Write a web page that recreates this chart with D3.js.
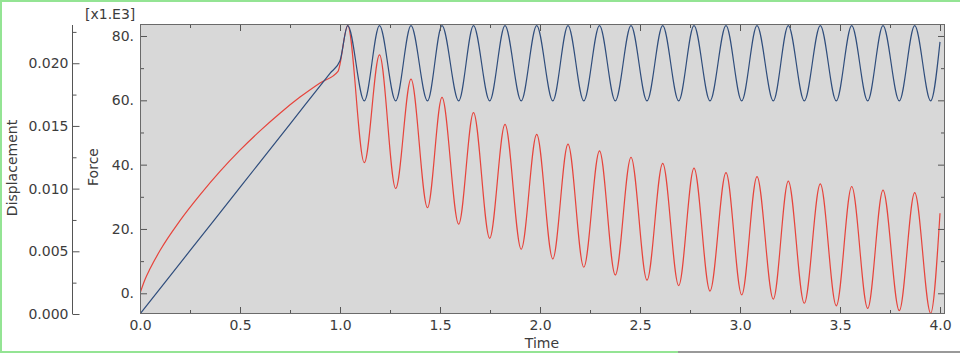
<!DOCTYPE html>
<html>
<head>
<meta charset="utf-8">
<script src="https://cdn.jsdelivr.net/npm/d3@7"></script>
<style>
  body { margin: 0; background: #fff; }
  text { font-family: "DejaVu Sans", Verdana, sans-serif; fill: #3c3c3c; }
  .axis path, .axis line { stroke: #555; }
</style>
</head>
<body>
<svg id="chart" width="960" height="354"></svg>
<script>
// ramp part (t <= 1.0)
const forceRampTime = [0, 0.025, 0.05, 0.1, 0.2, 0.3, 0.4, 0.5, 0.6, 0.7, 0.8, 0.9, 0.99];
const forceRamp = [0, 4.3, 7.6, 13.3, 22.6, 30.6, 37.9, 44.5, 50.5, 56.0, 61.0, 65.4, 69.0];
const dispRampTime = [0, 0.25, 0.5, 0.75, 0.95, 1.0];
const dispRamp = [0, 0.00505, 0.0101, 0.01515, 0.0192, 0.0202];

// oscillation: alternating peak / trough times (shared by both curves)
const extremaTime = [
  1.0385, 1.1215, 1.1975, 1.2785, 1.355, 1.4375, 1.51, 1.5935, 1.6675, 1.7485,
  1.825, 1.906, 1.9835, 2.064, 2.14, 2.219, 2.2975, 2.3765, 2.455, 2.535,
  2.6135, 2.6935, 2.77, 2.85, 2.93, 3.0085, 3.085, 3.1665, 3.2415, 3.3215,
  3.4015, 3.4815, 3.5585, 3.6385, 3.715, 3.7965, 3.8735, 3.9535, 4.0
];
// force in [x1.E3]
const forceExtrema = [
  83.2, 40.6, 74.1, 32.6, 66.6, 26.6, 60.9, 21.5, 56.2, 17.1,
  52.5, 13.7, 49.4, 10.7, 46.4, 8.1, 44.3, 5.7, 42.3, 4.1,
  40.4, 2.4, 38.9, 0.7, 37.5, -0.5, 36.3, -1.8, 34.9, -3.1,
  34.0, -3.9, 33.2, -4.7, 32.1, -5.4, 31.3, -6.2, 24.9
];
const dispExtrema = [
  0.0230, 0.0170, 0.0230, 0.0170, 0.0230, 0.0170, 0.0230, 0.0170, 0.0230, 0.0170,
  0.0230, 0.0170, 0.0230, 0.0170, 0.0230, 0.0170, 0.0230, 0.0170, 0.0230, 0.0170,
  0.0230, 0.0170, 0.0230, 0.0170, 0.0230, 0.0170, 0.0230, 0.0170, 0.0230, 0.0170,
  0.0230, 0.0170, 0.0230, 0.0170, 0.0230, 0.0170, 0.0230, 0.0170, 0.0217
];

const timeTicks = [0, 0.5, 1.0, 1.5, 2.0, 2.5, 3.0, 3.5, 4.0];
const timeMinor = [0.25, 0.75, 1.25, 1.75, 2.25, 2.75, 3.25, 3.75];
const forceTicks = [0, 20, 40, 60, 80];
const forceMinor = [10, 30, 50, 70];
const dispTicks = [0, 0.005, 0.010, 0.015, 0.020];
const dispMinor = [0.0025, 0.0075, 0.0125, 0.0175, 0.0225];

const svg = d3.select("#chart");
const plotL = 140, plotR = 945, plotT = 24, plotB = 314;

const x = d3.scaleLinear().domain([0, 4.025]).range([plotL, plotR]);
const yF = d3.scaleLinear().domain([-6.44, 83.73]).range([plotB, plotT]);
const yD = d3.scaleLinear().domain([0, 0.02313]).range([plotB, plotT]);

// outer frame lines
svg.append("rect").attr("x", 0).attr("y", 0).attr("width", 960).attr("height", 354).attr("fill", "#fff");
svg.append("line").attr("x1", 1).attr("x2", 1).attr("y1", 0).attr("y2", 353).attr("stroke", "#94e494").attr("stroke-width", 2);
svg.append("line").attr("x1", 0).attr("x2", 960).attr("y1", 1).attr("y2", 1).attr("stroke", "#94e494").attr("stroke-width", 2);
svg.append("line").attr("x1", 0).attr("x2", 678).attr("y1", 352).attr("y2", 352).attr("stroke", "#94e494").attr("stroke-width", 2);
svg.append("line").attr("x1", 678).attr("x2", 960).attr("y1", 352).attr("y2", 352).attr("stroke", "#999").attr("stroke-width", 2);

// plot area
svg.append("rect")
  .attr("x", plotL).attr("y", plotT)
  .attr("width", plotR - plotL).attr("height", plotB - plotT)
  .attr("fill", "#d8d8d8");

svg.append("clipPath").attr("id", "clip")
  .append("rect").attr("x", plotL).attr("y", plotT).attr("width", plotR - plotL).attr("height", plotB - plotT);

const forceData = forceRampTime.map((t, i) => [t, forceRamp[i]])
  .concat(extremaTime.map((t, i) => [t, forceExtrema[i]]));
const dispData = dispRampTime.map((t, i) => [t, dispRamp[i]])
  .concat(extremaTime.map((t, i) => [t, dispExtrema[i]]));

const g = svg.append("g").attr("clip-path", "url(#clip)");

g.append("path")
  .datum(forceData)
  .attr("fill", "none")
  .attr("stroke", "#e6443c")
  .attr("stroke-width", 1.2)
  .attr("d", d3.line().x(d => x(d[0])).y(d => yF(d[1])).curve(d3.curveMonotoneX));

g.append("path")
  .datum(dispData)
  .attr("fill", "none")
  .attr("stroke", "#2f4d7c")
  .attr("stroke-width", 1.2)
  .attr("d", d3.line().x(d => x(d[0])).y(d => yD(d[1])).curve(d3.curveMonotoneX));

// axes (ticks pointing inward)
const noLabel = () => "";
function axisGroup(axis, tx, ty) {
  const a = svg.append("g").attr("class", "axis").attr("transform", `translate(${tx},${ty})`).call(axis);
  a.select(".domain").remove();
  a.selectAll("text").style("font-size", "14px").attr("fill", "#3c3c3c");
  return a;
}

axisGroup(d3.axisBottom(x).tickValues(timeTicks).tickSize(-7).tickPadding(6).tickFormat(d3.format(".1f")), 0, plotB);
axisGroup(d3.axisBottom(x).tickValues(timeMinor).tickSize(-4).tickFormat(noLabel), 0, plotB);
axisGroup(d3.axisTop(x).tickValues(timeTicks).tickSize(-7).tickFormat(noLabel), 0, plotT);
axisGroup(d3.axisTop(x).tickValues(timeMinor).tickSize(-4).tickFormat(noLabel), 0, plotT);

axisGroup(d3.axisLeft(yF).tickValues(forceTicks).tickSize(-7).tickPadding(6).tickFormat(d => d + "."), plotL, 0);
axisGroup(d3.axisLeft(yF).tickValues(forceMinor).tickSize(-4).tickFormat(noLabel), plotL, 0);
axisGroup(d3.axisRight(yF).tickValues(forceTicks).tickSize(-7).tickFormat(noLabel), plotR, 0);
axisGroup(d3.axisRight(yF).tickValues(forceMinor).tickSize(-4).tickFormat(noLabel), plotR, 0);

// displacement axis on the far left
svg.append("line").attr("x1", 72.5).attr("x2", 72.5).attr("y1", 25).attr("y2", plotB)
  .attr("stroke", "#555");
axisGroup(d3.axisLeft(yD).tickValues(dispTicks).tickSize(-7).tickPadding(4).tickFormat(d3.format(".3f")), 72.5, 0);
axisGroup(d3.axisLeft(yD).tickValues(dispMinor).tickSize(-4).tickFormat(noLabel), 72.5, 0);

// plot frame
svg.append("rect")
  .attr("x", plotL + 0.5).attr("y", plotT + 0.5)
  .attr("width", plotR - plotL - 1).attr("height", plotB - plotT - 1)
  .attr("fill", "none").attr("stroke", "#6a6a6a");

// titles
svg.append("text").attr("transform", "translate(17,168) rotate(-90)")
  .attr("text-anchor", "middle").style("font-size", "14px").text("Displacement");
svg.append("text").attr("transform", "translate(98,167) rotate(-90)")
  .attr("text-anchor", "middle").style("font-size", "14px").text("Force");
svg.append("text").attr("x", 542).attr("y", 348)
  .attr("text-anchor", "middle").style("font-size", "14px").text("Time");
svg.append("text").attr("x", 85).attr("y", 19)
  .style("font-size", "14px").text("[x1.E3]");
</script>
</body>
</html>
